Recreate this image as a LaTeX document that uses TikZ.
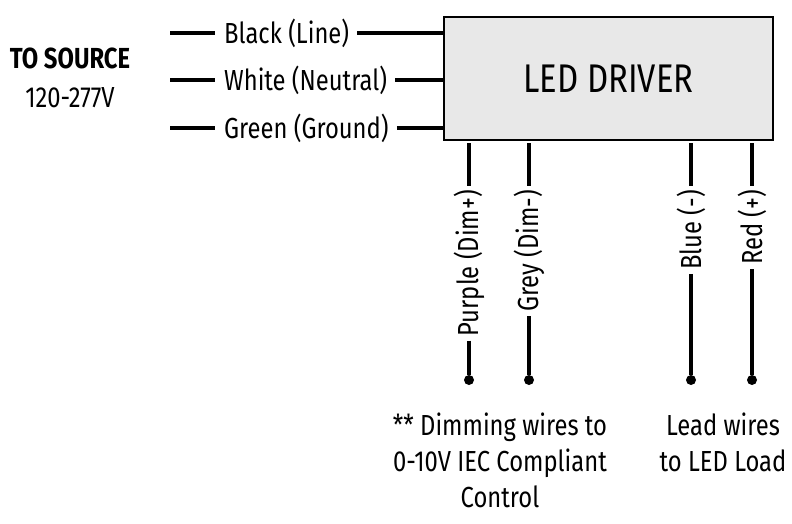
\documentclass[tikz,border=0pt]{standalone}
\usepackage{fontspec}
\setmainfont{Fira Sans}[FakeStretch=0.82]
\usetikzlibrary{positioning}
\definecolor{boxgrey}{RGB}{232,232,232}

\begin{document}
\begin{tikzpicture}[x=1pt,y=-1pt, wire/.style={line width=4pt}, lbl/.style={font=\fontsize{29}{32}\selectfont, inner sep=2pt}, vlbl/.style={lbl, rotate=90, anchor=east, inner sep=4pt}, dot/.style={circle, fill=black, inner sep=0pt, minimum size=10pt}]
        \useasboundingbox (0,0) rectangle (792,524);
        % driver box
        \node[draw, line width=2.2pt, fill=boxgrey, minimum width=329pt, minimum height=123pt, font=\fontsize{40}{44}\selectfont] (drv) at (608.5,78.5) {LED DRIVER};
        \node[font=\bfseries\fontsize{29}{32}\selectfont] (src) at (70,58) {TO SOURCE};
        \node[lbl] (volt) at (70,98) {120-277V};

        % source wires
        \foreach \n/\t/\y in {blk/Black (Line)/33, wht/White (Neutral)/80, grn/Green (Ground)/128} {
            \coordinate (\n_l) at (170,\y);
            \coordinate (\n_r) at (444,\y);
            \node[lbl, anchor=west] (\n) at (222,\y) {\t};
            \draw[wire] (\n_l) -- ++(45,0);
            \draw[wire] (\n.east) ++(6,0) -- (\n_r);
        }

        % output wires
        \foreach \n/\t/\x in {pur/Purple (Dim+)/469, gry/Grey (Dim-)/529, blu/Blue (-)/691, red/Red (+)/752} {
            \coordinate (\n_t) at (\x,143);
            \node[vlbl] (\n) at (\x,186) {\t};
            \node[dot] (\n_d) at (\x,380) {};
            \draw[wire] (\n_t) -- (\n.east);
            \draw[wire] (\n.west) -- (\n_d);
        }

        % notes
        \node[lbl, align=center, font=\fontsize{29}{36}\selectfont] (dimnote) at (500,460) {** Dimming wires to\\0-10V IEC Compliant\\Control};
        \node[lbl, align=center, font=\fontsize{29}{36}\selectfont] (ldnote) at (723,442) {Lead wires\\to LED Load};
\end{tikzpicture}
\end{document}
